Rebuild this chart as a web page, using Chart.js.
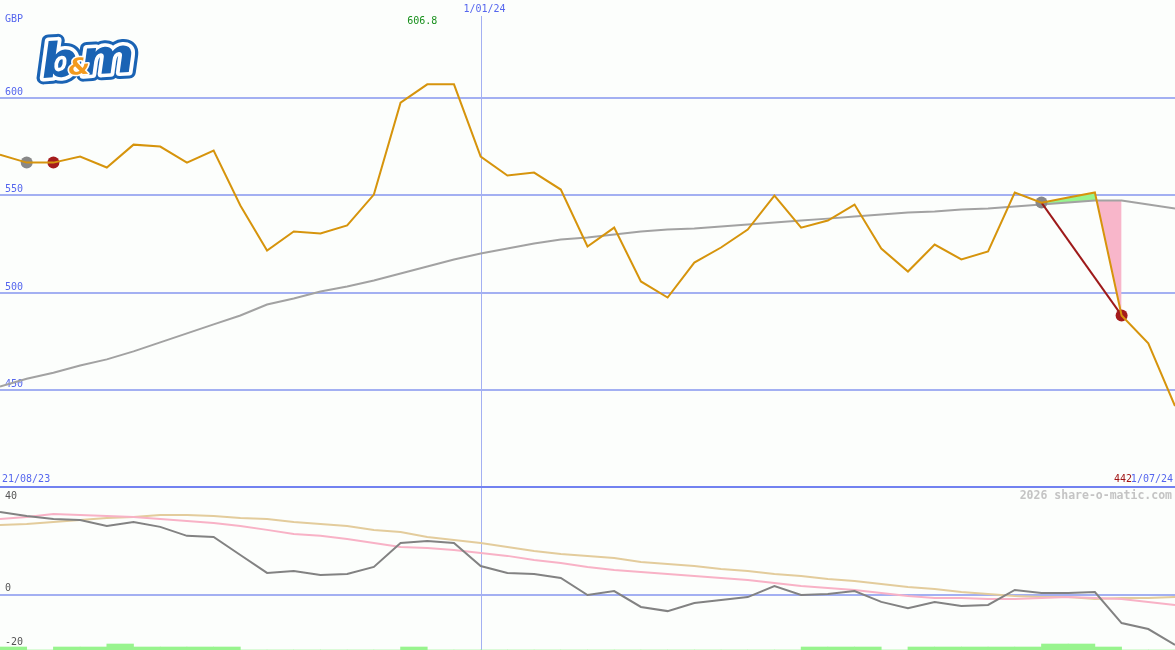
<!DOCTYPE html>
<html>
<head>
<meta charset="utf-8">
<title>B&amp;M share price</title>
<script src="https://cdn.jsdelivr.net/npm/chart.js@4/dist/chart.umd.min.js"></script>
<style>
  html, body { margin:0; padding:0; background:#fcfefc; }
  canvas { display:block; }
</style>
</head>
<body>
<canvas id="priceChart" width="1175" height="488"></canvas>
<canvas id="oscChart" width="1175" height="162"></canvas>
<script>
'use strict';
// ── B&M weekly price chart (share-o-matic style) ─────────────

const weeks = ['28/08/23','4/09/23','11/09/23','18/09/23','25/09/23','2/10/23','9/10/23','16/10/23',
  '23/10/23','30/10/23','6/11/23','13/11/23','20/11/23','27/11/23','4/12/23','11/12/23','18/12/23',
  '25/12/23','1/01/24','8/01/24','15/01/24','22/01/24','29/01/24','5/02/24','12/02/24','19/02/24',
  '26/02/24','4/03/24','11/03/24','18/03/24','25/03/24','1/04/24','8/04/24','15/04/24','22/04/24',
  '29/04/24','6/05/24','13/05/24','20/05/24','27/05/24','3/06/24','10/06/24','17/06/24','24/06/24','1/07/24'];

const price = [570.8,566.7,566.7,569.8,564.2,575.9,574.9,566.7,572.9,544.7,521.7,531.4,530.4,534.5,550.3,
  597.4,606.8,606.8,569.8,560.1,561.6,552.9,523.7,533.4,505.8,497.6,515.5,523.2,532.4,549.8,533.4,537.0,
  545.2,522.7,510.9,524.7,517.1,521.2,551.4,546.2,548.8,551.4,488.4,474.1,442.0];

const movingAvg = [452,456,459,462.8,465.9,470,474.6,479.2,483.8,488.4,494.0,497.1,500.7,503.2,506.3,509.9,
  513.5,517.1,520.1,522.7,525.3,527.3,528.3,529.9,531.4,532.4,532.9,534,535,536,537,538,539.1,540.1,
  541.1,541.6,542.7,543.2,544.2,545.2,546.2,547.3,547.3,545.2,543.2];

// lower panel
const momentum = [36.1,34.3,33.0,32.6,30.0,31.7,29.6,25.7,25.2,17.4,9.6,10.4,8.7,9.1,12.2,22.6,23.5,22.6,
  12.6,9.6,9.1,7.4,0,1.7,-5.2,-7.0,-3.5,-2.2,-0.9,3.9,0,0.4,1.7,-3.0,-5.7,-3.0,-4.8,-4.3,2.2,0.9,0.9,1.3,
  -12.2,-14.8,-21.7];
const slowLine = [33.0,33.9,35.2,34.8,34.3,33.9,33.0,32.2,31.3,30.0,28.3,26.5,25.7,24.3,22.6,20.9,20.4,19.6,
  18.3,17.0,15.2,13.9,12.2,10.9,10.0,9.1,8.3,7.4,6.5,5.2,3.9,3.0,2.2,0.9,-0.4,-1.3,-1.3,-1.7,-1.7,-1.3,
  -0.9,-1.3,-1.7,-3.0,-4.3];
const trendLine = [30.4,30.9,31.7,32.6,33.5,33.9,34.8,34.8,34.3,33.5,33.0,31.7,30.9,30.0,28.3,27.4,25.2,23.9,
  22.6,20.9,19.1,17.8,17.0,16.1,14.3,13.5,12.6,11.3,10.4,9.1,8.3,7.0,6.1,4.8,3.5,2.6,1.3,0.4,-0.4,-0.9,
  -0.9,-1.7,-1.3,-1.3,-0.9];
// green bars between weeks (1 = thin, 2 = tall)
const signalBars = [1,0,1,1,2,1,1,1,1,0,0,0,0,0,0,1,0,0,0,0,0,0,0,0,0,0,0,0,0,0,1,1,1,0,1,1,1,1,1,2,2,1,0,0];

// buy / sell markers
const markerAt   = [1, 2, 39, 42];
const markerVal  = [566.7, 566.7, 546.2, 488.4];
const markerKind = ['buy','sell','buy','sell'];

const gridValues = [450, 500, 550, 600];
const oscLabels  = [40, 0, -20];
const yearLine   = 18; // 1/01/24

const FONT = '"DejaVu Sans Mono", monospace';
const BLUE = '#5566ee', GRID = '#a3b0f2';

const markers = weeks.map(() => null);
const markerColors = weeks.map(() => 'transparent');
markerAt.forEach((i, k) => {
  markers[i] = markerVal[k];
  markerColors[i] = markerKind[k] === 'buy' ? '#888888' : '#a51c1c';
});
const link = weeks.map(() => null);
link[markerAt[2]] = markerVal[2];
link[markerAt[3]] = markerVal[3];
const fillSeg = price.map((v, i) => (i >= 39 && i <= 42 ? v : null));

function text(ctx, s, x, y, color, align, font) {
  ctx.font = font || ('10px ' + FONT);
  ctx.fillStyle = color;
  ctx.textAlign = align || 'left';
  ctx.textBaseline = 'middle';
  ctx.fillText(s, x, y);
}

function drawLogo(ctx) {
  ctx.save();
  ctx.translate(42, 78);
  ctx.rotate(-0.07);
  ctx.scale(1.08, 1);
  ctx.textAlign = 'left';
  ctx.textBaseline = 'alphabetic';
  ctx.lineJoin = 'round';
  ctx.font = 'bold italic 48px "DejaVu Sans"';
  const parts = [['b', 0], ['m', 37]];
  parts.forEach(([c, x]) => { ctx.strokeStyle = '#1a63b4'; ctx.lineWidth = 13; ctx.strokeText(c, x, 0); });
  parts.forEach(([c, x]) => { ctx.strokeStyle = '#ffffff'; ctx.lineWidth = 7; ctx.strokeText(c, x, 0); });
  parts.forEach(([c, x]) => { ctx.fillStyle = '#1a63b4'; ctx.fillText(c, x, 0); });
  ctx.font = 'bold italic 23px "DejaVu Sans"';
  ctx.strokeStyle = '#ffffff'; ctx.lineWidth = 3;
  ctx.strokeText('&', 25, -1);
  ctx.fillStyle = '#f39a1e';
  ctx.fillText('&', 25, -1);
  ctx.restore();
}

// ── Price panel ─────────────────────────────────────────────
const pricePanel = {
  id: 'pricePanel',
  beforeDatasetsDraw(chart) {
    const { ctx, scales: { x, y }, width, height } = chart;
    ctx.save();
    ctx.lineWidth = 2;
    ctx.strokeStyle = GRID;
    gridValues.forEach(v => {
      const py = Math.round(y.getPixelForValue(v));
      ctx.beginPath(); ctx.moveTo(0, py); ctx.lineTo(width, py); ctx.stroke();
      text(ctx, String(v), 5, py - 6, BLUE);
    });
    const vx = Math.round(x.getPixelForValue(yearLine)) + 0.5;
    ctx.lineWidth = 1;
    ctx.beginPath(); ctx.moveTo(vx, 16); ctx.lineTo(vx, height); ctx.stroke();
    ctx.lineWidth = 2;
    ctx.strokeStyle = '#7282f0';
    ctx.beginPath(); ctx.moveTo(0, height - 1); ctx.lineTo(width, height - 1); ctx.stroke();

    text(ctx, 'GBP', 5, 19, BLUE);
    text(ctx, weeks[yearLine], vx + 3, 9, BLUE, 'center');
    const hi = Math.max(...price);
    text(ctx, hi.toFixed(1), x.getPixelForValue(price.indexOf(hi)) - 5, 21, '#18901c', 'center');
    text(ctx, '21/08/23', 2, 479, BLUE);
    text(ctx, weeks[weeks.length - 1], 1173, 479, BLUE, 'right');
    text(ctx, String(Math.round(price[price.length - 1])), 1132, 479, '#a01414', 'right');
    drawLogo(ctx);
    ctx.restore();
  },
};

new Chart(document.getElementById('priceChart'), {
  type: 'line',
  data: {
    labels: weeks,
    datasets: [
      { data: price, borderColor: '#d6940c', borderWidth: 2, pointRadius: 0, tension: 0 },
      { data: link, borderColor: '#9e1a1a', borderWidth: 2, pointRadius: 0, spanGaps: true },
      { data: markers, showLine: false, pointRadius: 6, pointHoverRadius: 6, borderWidth: 0,
        pointBackgroundColor: markerColors, pointBorderColor: 'transparent' },
      { data: movingAvg, borderColor: '#a2a2a2', borderWidth: 2, pointRadius: 0, tension: 0 },
      { data: fillSeg, borderColor: 'transparent', borderWidth: 0, pointRadius: 0,
        fill: { target: 3, above: '#98f48e', below: '#f8b6ca' } },
    ],
  },
  options: {
    responsive: false,
    animation: false,
    events: [],
    layout: { padding: 0, autoPadding: false },
    plugins: { legend: { display: false }, tooltip: { enabled: false } },
    scales: {
      x: { type: 'category', display: false, offset: false },
      y: { display: false, min: 400, max: 650 },
    },
  },
  plugins: [pricePanel],
});

// ── Oscillator panel ────────────────────────────────────────
const oscPanel = {
  id: 'oscPanel',
  beforeDatasetsDraw(chart) {
    const { ctx, scales: { x, y }, width, height } = chart;
    ctx.save();
    ctx.lineWidth = 2;
    ctx.strokeStyle = GRID;
    const zy = Math.round(y.getPixelForValue(0));
    ctx.beginPath(); ctx.moveTo(0, zy); ctx.lineTo(width, zy); ctx.stroke();
    const vx = Math.round(x.getPixelForValue(yearLine)) + 0.5;
    ctx.lineWidth = 1;
    ctx.beginPath(); ctx.moveTo(vx, 0); ctx.lineTo(vx, height); ctx.stroke();
    oscLabels.forEach(v => {
      const py = v < 0 ? height - 8 : y.getPixelForValue(v) - 7;
      text(ctx, String(v), 5, py, '#555555');
    });
    text(ctx, '2026 share-o-matic.com', 1172, 8, '#c4c4c4', 'right', 'bold 11.5px ' + FONT);
    ctx.restore();
  },
};

new Chart(document.getElementById('oscChart'), {
  type: 'line',
  data: {
    labels: weeks,
    datasets: [
      { data: momentum, borderColor: '#828282', borderWidth: 2, pointRadius: 0, tension: 0 },
      { data: slowLine, borderColor: '#f8b2c6', borderWidth: 2, pointRadius: 0, tension: 0 },
      { data: trendLine, borderColor: '#e3cc9c', borderWidth: 2, pointRadius: 0, tension: 0 },
      { type: 'bar', data: signalBars, xAxisID: 'xb', yAxisID: 'yb', backgroundColor: '#98f48e',
        barPercentage: 1, categoryPercentage: 1, borderWidth: 0, grouped: false },
    ],
  },
  options: {
    responsive: false,
    animation: false,
    events: [],
    layout: { padding: 0, autoPadding: false },
    plugins: { legend: { display: false }, tooltip: { enabled: false } },
    scales: {
      x:  { type: 'category', display: false, offset: false },
      xb: { type: 'category', display: false, offset: true, labels: weeks.slice(1) },
      y:  { display: false, min: -23.9, max: 46.5 },
      yb: { display: false, min: 0, max: 54 },
    },
  },
  plugins: [oscPanel],
});
</script>
</body>
</html>
